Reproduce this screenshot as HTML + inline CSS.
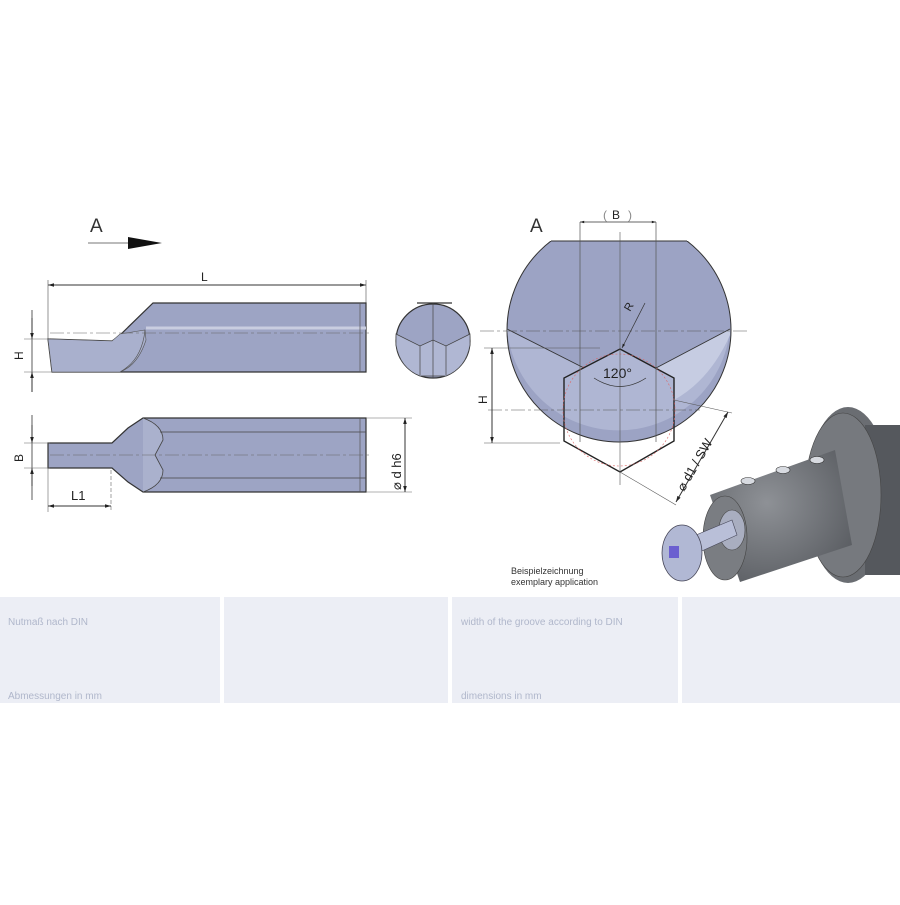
<!DOCTYPE html>
<html><head><style>
body{margin:0;background:#fff;width:900px;height:900px;overflow:hidden;font-family:"Liberation Sans",sans-serif}
</style></head><body>
<svg width="900" height="900" viewBox="0 0 900 900" xmlns="http://www.w3.org/2000/svg" font-family="Liberation Sans, sans-serif">
<defs>
<radialGradient id="gr" cx="0.4" cy="0.4" r="0.7"><stop offset="0" stop-color="#8e9196"/><stop offset="1" stop-color="#5a5d62"/></radialGradient>
<marker id="ar" viewBox="0 0 10 10" refX="10" refY="5" markerWidth="8" markerHeight="6" orient="auto-start-reverse"><path d="M0,2 L10,5 L0,8z" fill="#222"/></marker>
</defs>
<text x="90" y="232" font-size="19" fill="#333">A</text>
<line x1="88" y1="243" x2="130" y2="243" stroke="#777" stroke-width="1"/>
<path d="M128,237 L162,243 L128,249z" fill="#111"/>
<line x1="48" y1="285" x2="366" y2="285" stroke="#333" marker-start="url(#ar)" marker-end="url(#ar)"/>
<line x1="48" y1="280" x2="48" y2="340" stroke="#666" stroke-width="0.7"/>
<line x1="366" y1="280" x2="366" y2="303" stroke="#666" stroke-width="0.7"/>
<text x="201" y="281" font-size="12" fill="#222">L</text>
<path d="M48,339 L112,341 L118,337 L153,303 L366,303 L366,372 L52,372 Z" fill="#9da4c4" stroke="#333" stroke-width="1.2"/>
<path d="M48,339 L112,341 L120,334 L145,330 L146,340 Q138,365 120,372 L52,372 Z" fill="#a9b0cd" stroke="#555" stroke-width="0.6"/>
<path d="M145,330 Q142,360 120,372" fill="none" stroke="#555" stroke-width="0.7"/>
<line x1="146" y1="328" x2="366" y2="328" stroke="#c9cde0" stroke-width="3"/>
<line x1="360" y1="303" x2="360" y2="372" stroke="#555" stroke-width="0.7"/>
<line x1="50" y1="333" x2="372" y2="333" stroke="#666" stroke-width="0.6" stroke-dasharray="14,3,3,3"/>
<line x1="32" y1="310" x2="32" y2="385" stroke="#333" stroke-width="0.8"/>
<line x1="32" y1="318" x2="32" y2="339" stroke="#333" marker-end="url(#ar)"/>
<line x1="32" y1="392" x2="32" y2="372" stroke="#333" marker-end="url(#ar)"/>
<line x1="24" y1="339" x2="50" y2="339" stroke="#666" stroke-width="0.6"/>
<line x1="24" y1="372" x2="52" y2="372" stroke="#666" stroke-width="0.6"/>
<text font-size="12" fill="#222" transform="translate(23,360) rotate(-90)">H</text>
<clipPath id="c1"><rect x="390" y="303" width="90" height="80"/></clipPath>
<circle cx="433" cy="341" r="37" fill="#9da4c4" stroke="#333" stroke-width="1.2" clip-path="url(#c1)"/>
<line x1="417" y1="303" x2="452" y2="303" stroke="#333" stroke-width="1.2"/>
<path d="M396,334 L420,346 L433,340 L446,346 L470,334 L470,345 Q466,368 446,376 L420,376 Q400,368 396,345Z" fill="#b0b7d3" stroke="#444" stroke-width="0.7"/>
<path d="M420,346 L420,375 M446,346 L446,375 M433,303 L433,378" stroke="#444" stroke-width="0.7"/>
<path d="M48,443 L112,443 L128,428 L143,418 L366,418 L366,492 L143,492 L128,482 L112,468 L48,468 Z" fill="#9da4c4" stroke="#333" stroke-width="1.2"/>
<path d="M143,418 Q163,425 163,440 L155,455 L163,470 Q163,485 143,492" fill="#aab1cd" stroke="#444" stroke-width="0.8"/>
<line x1="160" y1="432" x2="366" y2="432" stroke="#444" stroke-width="0.8"/>
<line x1="160" y1="478" x2="366" y2="478" stroke="#444" stroke-width="0.8"/>
<line x1="360" y1="418" x2="360" y2="492" stroke="#555" stroke-width="0.7"/>
<line x1="50" y1="455" x2="372" y2="455" stroke="#666" stroke-width="0.6" stroke-dasharray="14,3,3,3"/>
<line x1="32" y1="415" x2="32" y2="500" stroke="#333" stroke-width="0.8"/>
<line x1="32" y1="425" x2="32" y2="443" stroke="#333" marker-end="url(#ar)"/>
<line x1="32" y1="486" x2="32" y2="468" stroke="#333" marker-end="url(#ar)"/>
<line x1="24" y1="443" x2="50" y2="443" stroke="#666" stroke-width="0.6"/>
<line x1="24" y1="468" x2="50" y2="468" stroke="#666" stroke-width="0.6"/>
<text font-size="12" fill="#222" transform="translate(23,462) rotate(-90)">B</text>
<line x1="48" y1="468" x2="48" y2="512" stroke="#666" stroke-width="0.6"/>
<line x1="111" y1="470" x2="111" y2="512" stroke="#666" stroke-width="0.6" stroke-dasharray="4,2"/>
<line x1="48" y1="506" x2="111" y2="506" stroke="#333" marker-start="url(#ar)" marker-end="url(#ar)"/>
<text x="71" y="500" font-size="13" fill="#222">L1</text>
<line x1="366" y1="418" x2="412" y2="418" stroke="#666" stroke-width="0.6"/>
<line x1="366" y1="492" x2="412" y2="492" stroke="#666" stroke-width="0.6"/>
<line x1="405" y1="418" x2="405" y2="492" stroke="#333" marker-start="url(#ar)" marker-end="url(#ar)"/>
<text font-size="13" fill="#222" transform="translate(401,490) rotate(-90)">⌀ d h6</text>
<text x="530" y="232" font-size="19" fill="#333">A</text>
<clipPath id="c2"><rect x="500" y="241" width="240" height="210"/></clipPath>
<circle cx="619" cy="330" r="112" fill="#9ca3c4" stroke="#333" stroke-width="1" clip-path="url(#c2)"/>
<line x1="551" y1="241" x2="687" y2="241" stroke="#333"/>
<path d="M507,329 L584,368 L620,349 L656,368 L730,329 A112,112 0 0 1 507,329Z" fill="#afb6d3" clip-path="url(#c2)"/>
<path d="M730,329 L656,368 L674,378 L674,400 Q710,380 730,335Z" fill="#c6cce2"/>
<path d="M507,329 L584,368 M730,329 L656,368" stroke="#333" stroke-width="0.9"/>
<path d="M620,349 L674,378 L674,441 L620,472 L564,441 L564,378 Z" fill="none" stroke="#222" stroke-width="1.4"/>
<circle cx="619" cy="410" r="56" fill="none" stroke="#d66" stroke-width="0.6" stroke-dasharray="2,2"/>
<path d="M580,222 L580,442 M656,222 L656,442" stroke="#555" stroke-width="0.7"/>
<line x1="620" y1="232" x2="620" y2="485" stroke="#555" stroke-width="0.6"/>
<line x1="480" y1="331" x2="748" y2="331" stroke="#555" stroke-width="0.6" stroke-dasharray="14,3,3,3"/>
<line x1="488" y1="410" x2="700" y2="410" stroke="#555" stroke-width="0.6" stroke-dasharray="14,3,3,3"/>
<line x1="580" y1="222" x2="656" y2="222" stroke="#333" stroke-width="0.7" marker-start="url(#ar)" marker-end="url(#ar)"/>
<text x="612" y="219" font-size="12" fill="#222">B</text>
<text x="603" y="219" font-size="12" fill="#888">(</text><text x="628" y="219" font-size="12" fill="#888">)</text>
<line x1="645" y1="303" x2="622" y2="348" stroke="#333" stroke-width="0.7" marker-end="url(#ar)"/>
<text font-size="11" fill="#222" transform="translate(630,312) rotate(-60)">R</text>
<path d="M594,378 Q620,395 646,378" fill="none" stroke="#333" stroke-width="0.7"/>
<text x="603" y="378" font-size="14" fill="#222">120°</text>
<line x1="484" y1="348" x2="600" y2="348" stroke="#555" stroke-width="0.6"/>
<line x1="484" y1="443" x2="560" y2="443" stroke="#555" stroke-width="0.6"/>
<line x1="492" y1="348" x2="492" y2="443" stroke="#333" marker-start="url(#ar)" marker-end="url(#ar)"/>
<text font-size="12" fill="#222" transform="translate(487,404) rotate(-90)">H</text>
<line x1="674" y1="400" x2="732" y2="413" stroke="#555" stroke-width="0.6"/>
<line x1="620" y1="472" x2="676" y2="505" stroke="#555" stroke-width="0.6"/>
<line x1="728" y1="412" x2="676" y2="502" stroke="#333" marker-start="url(#ar)" marker-end="url(#ar)"/>
<text font-size="13" fill="#222" transform="translate(684,492) rotate(-60)">⌀ d1 / SW</text>
<ellipse cx="848" cy="495" rx="42" ry="88" fill="#6a6d72"/>
<rect x="865" y="425" width="35" height="150" fill="#55585d"/>
<ellipse cx="843" cy="495" rx="38" ry="82" fill="#76797e" stroke="#444" stroke-width="0.6"/>
<path d="M710,495 L835,450 L852,545 L740,582 Z" fill="url(#gr)"/>
<ellipse cx="725" cy="538" rx="22" ry="42" fill="#7a7d82" stroke="#444" stroke-width="0.6"/>
<ellipse cx="748" cy="481" rx="7" ry="3.5" fill="#d7dae0" stroke="#333" stroke-width="0.6"/>
<ellipse cx="783" cy="470" rx="7" ry="3.5" fill="#d7dae0" stroke="#333" stroke-width="0.6"/>
<ellipse cx="817" cy="460" rx="7" ry="3.5" fill="#d7dae0" stroke="#333" stroke-width="0.6"/>
<ellipse cx="732" cy="530" rx="13" ry="20" fill="#a9aec0" stroke="#444" stroke-width="0.6"/>
<path d="M672,545 L732,520 L737,535 L682,560Z" fill="#b9bfd8" stroke="#445" stroke-width="0.6"/>
<ellipse cx="682" cy="553" rx="20" ry="28" fill="#b1b8d4" stroke="#445" stroke-width="0.8"/>
<rect x="669" y="546" width="10" height="12" fill="#6b5fd0"/>
<text x="511" y="574" font-size="9" fill="#333">Beispielzeichnung</text>
<text x="511" y="585" font-size="9" fill="#333">exemplary application</text>
<rect x="0" y="597" width="220" height="106" fill="#eceef5"/>
<rect x="224" y="597" width="224" height="106" fill="#eceef5"/>
<rect x="452" y="597" width="226" height="106" fill="#eceef5"/>
<rect x="682" y="597" width="218" height="106" fill="#eceef5"/>
<text x="8" y="625" font-size="10" fill="#b0b7cb">Nutmaß nach DIN</text>
<text x="8" y="699" font-size="10" fill="#b0b7cb">Abmessungen in mm</text>
<text x="461" y="625" font-size="10" fill="#b0b7cb">width of the groove according to DIN</text>
<text x="461" y="699" font-size="10" fill="#b0b7cb">dimensions in mm</text>
</svg>
</body></html>
